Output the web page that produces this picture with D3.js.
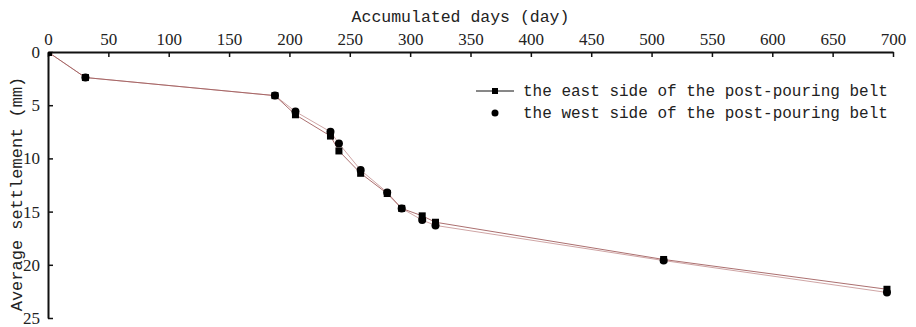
<!DOCTYPE html>
<html>
<head>
<meta charset="utf-8">
<script src="https://cdn.jsdelivr.net/npm/d3@7"></script>
<style>
  body { margin: 0; background: #fff; }
  svg text { font-family: "Liberation Mono", "DejaVu Sans Mono", monospace; fill: #222; }
</style>
</head>
<body>
<div id="chart"></div>
<script>
// data
const days = [0, 31, 188, 205, 234, 241, 259, 281, 293, 310, 321, 510, 695];
const eastSettlement = [0, 2.4, 4.1, 5.9, 7.9, 9.3, 11.4, 13.3, 14.7, 15.4, 16.0, 19.5, 22.3];
const westSettlement = [0, 2.4, 4.1, 5.6, 7.5, 8.6, 11.1, 13.2, 14.7, 15.8, 16.3, 19.6, 22.6];
const xTicks = [0, 50, 100, 150, 200, 250, 300, 350, 400, 450, 500, 550, 600, 650, 700];
const yTicks = [0, 5, 10, 15, 20, 25];
const seriesNames = ['the east side of the post-pouring belt', 'the west side of the post-pouring belt'];

const width = 916, height = 327;
const margin = {top: 52, right: 23, bottom: 9, left: 48};
const w = width - margin.left - margin.right;
const h = height - margin.top - margin.bottom;

const svg = d3.select('#chart').append('svg')
    .attr('width', width)
    .attr('height', height);

const g = svg.append('g')
    .attr('transform', 'translate(' + margin.left + ',' + margin.top + ')');

const xScale = d3.scaleLinear().domain([0, 700]).range([0, w]);
const yScale = d3.scaleLinear().domain([0, 25]).range([0, h]);

// axes, ticks pointing inward
const gx = g.append('g')
    .call(d3.axisTop(xScale).tickValues(xTicks).tickSizeInner(-5).tickSizeOuter(0).tickPadding(7));
const gy = g.append('g')
    .call(d3.axisLeft(yScale).tickValues(yTicks).tickSizeInner(-5).tickSizeOuter(0).tickPadding(8));

[gx, gy].forEach(a => {
    a.attr('font-family', null);
    a.select('.domain').attr('stroke', '#111').attr('stroke-width', 2);
    a.selectAll('.tick line').attr('stroke', '#111').attr('stroke-width', 1.5);
    a.selectAll('.tick text')
        .style('font-family', '"Liberation Serif", "DejaVu Serif", serif')
        .style('font-size', '17px')
        .attr('fill', '#222');
});

// axis titles
svg.append('text')
    .attr('x', margin.left + xScale(350) - 10)
    .attr('y', 22)
    .attr('text-anchor', 'middle')
    .style('font-size', '16.5px')
    .text('Accumulated days (day)');

svg.append('text')
    .attr('transform', 'translate(22,' + 194 + ') rotate(-90)')
    .attr('text-anchor', 'middle')
    .style('font-size', '17px')
    .text('Average settlement (mm)');

const east = days.map((d, i) => ({x: d, y: eastSettlement[i]}));
const west = days.map((d, i) => ({x: d, y: westSettlement[i]}));

const line = d3.line()
    .x(d => xScale(d.x))
    .y(d => yScale(d.y));

g.append('path')
    .datum(west)
    .attr('fill', 'none')
    .attr('stroke', '#cfa5a5')
    .attr('stroke-width', 1)
    .attr('d', line);

g.append('path')
    .datum(east)
    .attr('fill', 'none')
    .attr('stroke', '#a25f5f')
    .attr('stroke-width', 0.9)
    .attr('d', line);

g.selectAll('.sq')
    .data(east.slice(1))
    .enter().append('rect')
    .attr('class', 'sq')
    .attr('x', d => xScale(d.x) - 3.5)
    .attr('y', d => yScale(d.y) - 3.5)
    .attr('width', 7)
    .attr('height', 7)
    .attr('fill', '#000');

g.selectAll('.dot')
    .data(west.slice(1))
    .enter().append('circle')
    .attr('class', 'dot')
    .attr('cx', d => xScale(d.x))
    .attr('cy', d => yScale(d.y))
    .attr('r', 4)
    .attr('fill', '#000');

// origin marker
g.append('rect').attr('x', 0).attr('y', 0).attr('width', 4).attr('height', 4).attr('fill', '#000');

// legend
const legend = svg.append('g').attr('transform', 'translate(476,91)');
legend.append('line').attr('x1', 0).attr('x2', 38).attr('y1', 0).attr('y2', 0)
    .attr('stroke', '#111').attr('stroke-width', 1);
legend.append('rect').attr('x', 16).attr('y', -3).attr('width', 6).attr('height', 6).attr('fill', '#000');
legend.append('circle').attr('cx', 19).attr('cy', 22).attr('r', 3.5).attr('fill', '#000');
legend.selectAll('.lt')
    .data(seriesNames)
    .enter().append('text')
    .attr('class', 'lt')
    .attr('x', 47)
    .attr('y', (d, i) => i * 22 + 5)
    .style('font-size', '16px')
    .text(d => d);
</script>
</body>
</html>
